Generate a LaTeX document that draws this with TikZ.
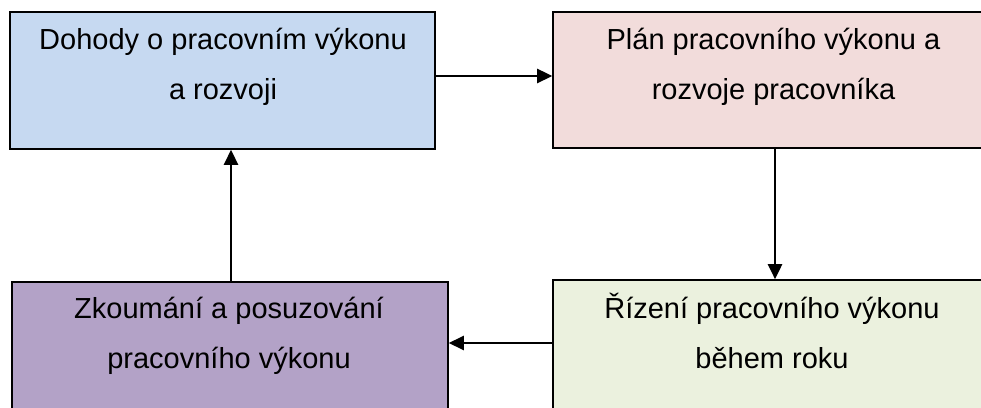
\documentclass[tikz,border=0pt]{standalone}
\usepackage{fontspec}
\setmainfont{Liberation Sans}
\usetikzlibrary{arrows.meta}
\definecolor{boxblue}{HTML}{C6D9F1}
\definecolor{boxpink}{HTML}{F2DCDB}
\definecolor{boxgreen}{HTML}{EBF1DE}
\definecolor{boxpurple}{HTML}{B3A2C7}
\newcommand{\topline}{\rule{0pt}{28pt}}
\newcommand{\botline}{\rule[-8pt]{0pt}{8pt}}
\tikzset{
  stagebox/.style={draw=black, line width=1.6pt, inner sep=0pt, minimum height=137pt},
  stagetext/.style={inner sep=0pt, align=center, font=\fontsize{29}{50}\selectfont},
  flow/.style={line width=2.6pt, -{Triangle[length=15pt,width=14pt]}}
}
\begin{document}
\begin{tikzpicture}[x=1pt,y=1pt]
\useasboundingbox (0,0) rectangle (981,407);
\clip (0,0) rectangle (981,407);
\fill[white] (0,0) rectangle (981,407);

% the four stages of the cycle
\node[stagebox, fill=boxblue,   minimum width=425pt] (b1) at (222.5,326.5) {};
\node[stagebox, fill=boxpink,   minimum width=444pt, minimum height=136pt] (b2) at (775,327) {};
\node[stagebox, fill=boxgreen,  minimum width=438pt] (b3) at (772,58.5) {};
\node[stagebox, fill=boxpurple, minimum width=436pt] (b4) at (230,56.5) {};

% stage captions
\node[stagetext] (t1) at (223,342) {\topline Dohody o pracovním výkonu\\a rozvoji\botline};
\node[stagetext] (t2) at (773.5,342) {\topline Plán pracovního výkonu a\\rozvoje pracovníka\botline};
\node[stagetext] (t3) at (772,74) {\topline Řízení pracovního výkonu\\během roku\botline};
\node[stagetext] (t4) at (229,74) {\topline Zkoumání a posuzování\\pracovního výkonu\botline};

% connectors between the stages
\draw[flow] ([yshift=4.5pt]b1.east) -- ([yshift=4.5pt]b1.east -| b2.west);
\draw[flow] (b2.south) -- (b2.south |- b3.north);
\draw[flow] ([yshift=5.5pt]b3.west) -- ([yshift=5.5pt]b3.west -| b4.east);
\draw[flow] ([xshift=1pt]b4.north) -- ([xshift=1pt]b4.north |- b1.south);
\end{tikzpicture}
\end{document}
